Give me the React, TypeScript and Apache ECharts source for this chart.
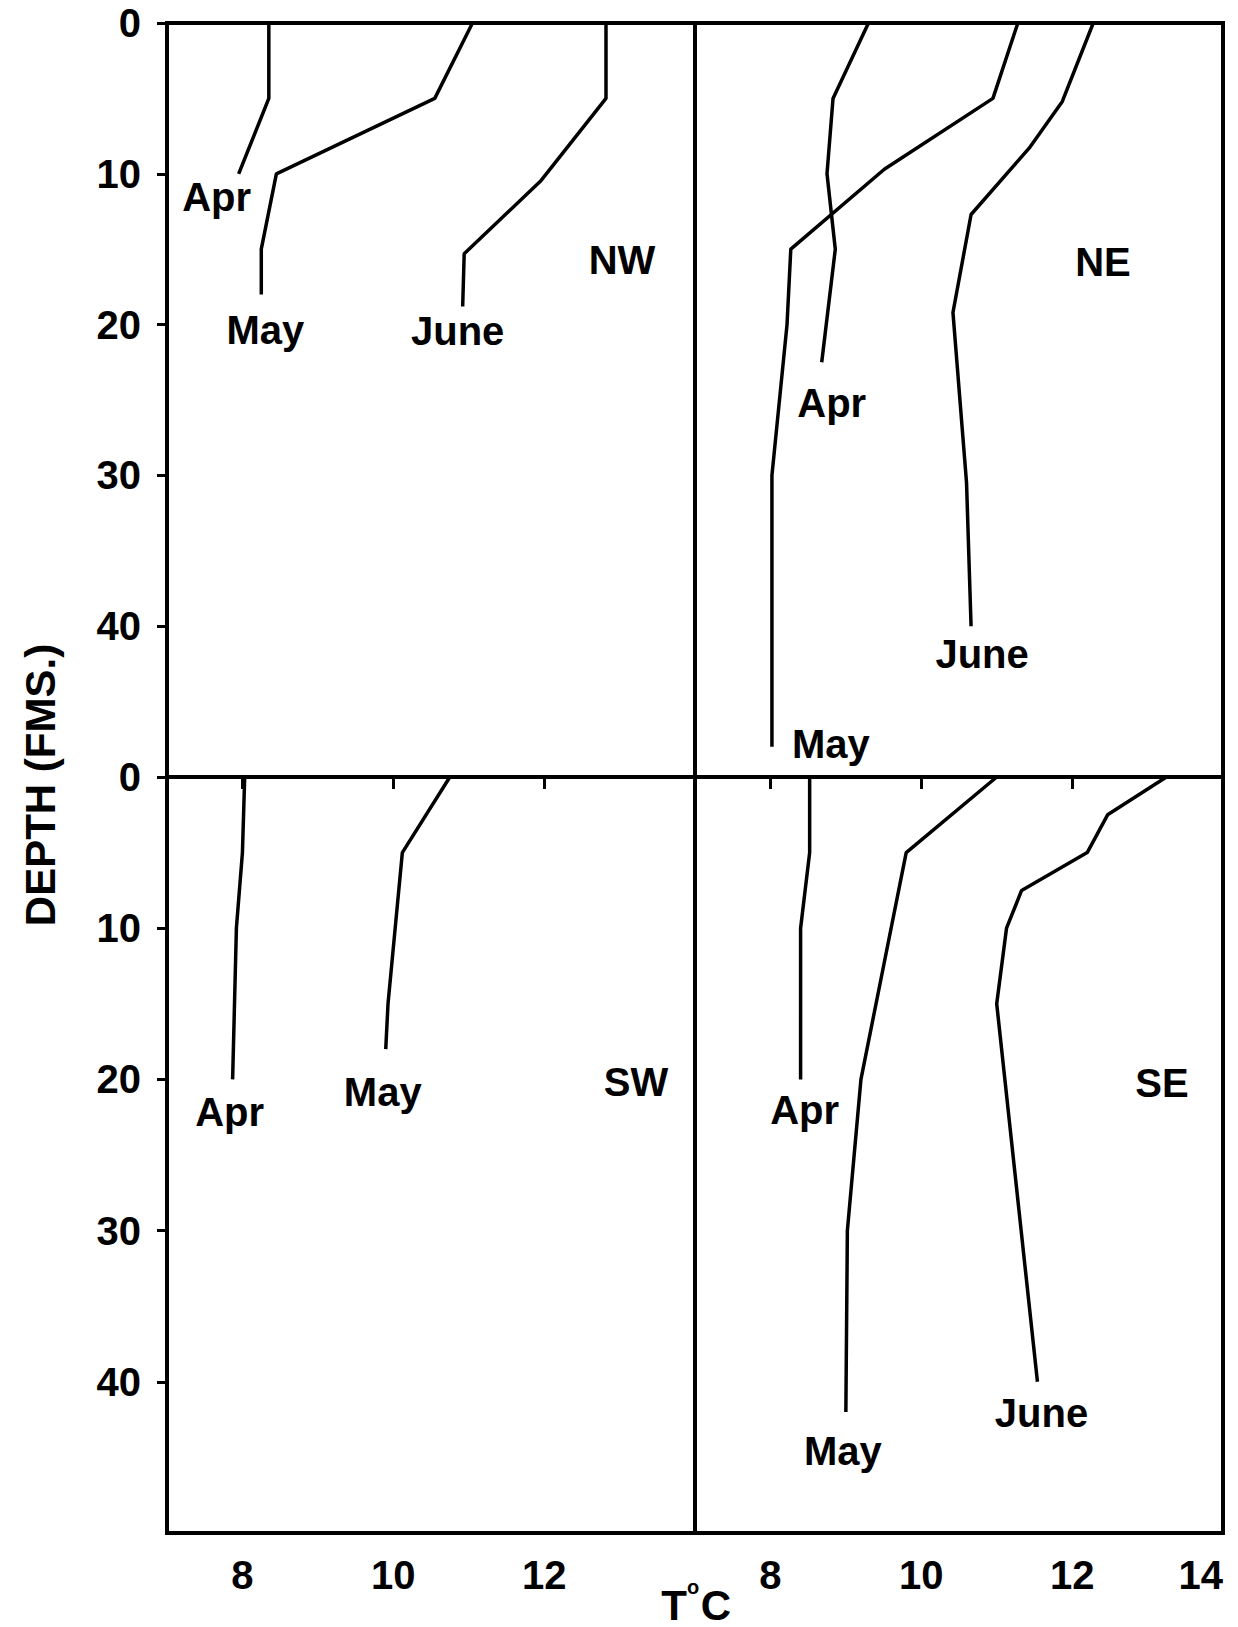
import React, { useEffect, useRef } from "react";
import * as echarts from "echarts";

// ---- data (temperature °C, depth fathoms) ----
const depthTicks = [0, 10, 20, 30, 40];
const tempTicksLeft = [8, 10, 12];
const tempTicksRight = [8, 10, 12, 14];

const nwApr = [[8.35, 0], [8.35, 5], [7.95, 10]];
const nwMay = [[11.05, 0], [10.55, 5], [8.45, 10], [8.25, 15], [8.25, 18]];
const nwJune = [[12.82, 0], [12.82, 5], [11.95, 10.5], [10.94, 15.3], [10.92, 18.8]];

const neApr = [[9.3, 0], [8.83, 5], [8.75, 10], [8.86, 15], [8.68, 22.5]];
const neMay = [[11.28, 0], [10.95, 5], [9.51, 9.7], [8.27, 15], [8.22, 20], [8.02, 30], [8.02, 48]];
const neJune = [[12.28, 0], [11.87, 5.2], [11.43, 8.3], [10.66, 12.7], [10.42, 19.2], [10.6, 30.5], [10.66, 40]];

const swApr = [[8.03, 0], [8.0, 5], [7.92, 10], [7.87, 20]];
const swMay = [[10.75, 0], [10.12, 5], [9.93, 15], [9.9, 18]];

const seApr = [[8.52, 0], [8.52, 5], [8.4, 10], [8.4, 20]];
const seMay = [[11.0, 0], [9.8, 5], [9.5, 12.5], [9.2, 20], [9.02, 30], [9.0, 42]];
const seJune = [[13.25, 0], [12.47, 2.5], [12.2, 5], [11.33, 7.5], [11.13, 10], [11.0, 15], [11.54, 40]];

const regions = ["NW", "NE", "SW", "SE"];

// ---- layout / style ----
const W = 1238;
const H = 1627;
const LEFT = 167, MID = 695, RIGHT = 1223, TOP = 23, HMID = 777, BOTTOM = 1533;
const tickFont = "'Liberation Sans', Arial, Helvetica, sans-serif";
const textFont = "'Liberation Sans', Arial, Helvetica, sans-serif";

type Line = { name: string; data: number[][]; panel: number; off: [number, number] };

const lines: Line[] = [
  { name: "Apr", data: nwApr, panel: 0, off: [-22, 23] },
  { name: "May", data: nwMay, panel: 0, off: [4, 36] },
  { name: "June", data: nwJune, panel: 0, off: [-5, 24] },
  { name: "Apr", data: neApr, panel: 1, off: [10, 41] },
  { name: "May", data: neMay, panel: 1, off: [59, -3] },
  { name: "June", data: neJune, panel: 1, off: [11, 28] },
  { name: "Apr", data: swApr, panel: 2, off: [-3, 33] },
  { name: "May", data: swMay, panel: 2, off: [-3, 43] },
  { name: "Apr", data: seApr, panel: 3, off: [4, 31] },
  { name: "May", data: seMay, panel: 3, off: [-3, 39] },
  { name: "June", data: seJune, panel: 3, off: [4, 31] },
];

const regionPos: [number, number][] = [
  [622, 260],
  [1103, 262],
  [636, 1082],
  [1162, 1083],
];

export default function App() {
  const ref = useRef<HTMLDivElement>(null);

  useEffect(() => {
    document.body.style.margin = "0";
    if (!ref.current) return;
    const chart = echarts.init(ref.current, undefined, { renderer: "svg" });

    const grids = [
      { left: LEFT, top: TOP, width: MID - LEFT, height: HMID - TOP },
      { left: MID, top: TOP, width: RIGHT - MID, height: HMID - TOP },
      { left: LEFT, top: HMID, width: MID - LEFT, height: BOTTOM - HMID },
      { left: MID, top: HMID, width: RIGHT - MID, height: BOTTOM - HMID },
    ].map((g) => ({
      ...g,
      show: true,
      borderColor: "#000",
      borderWidth: 4,
      backgroundColor: "transparent",
      containLabel: false,
      outerBoundsMode: "none",
    }));

    const xAxes = [0, 1, 2, 3].map((i) => {
      const bottomRow = i >= 2;
      const ticks = i === 3 ? tempTicksRight : tempTicksLeft;
      return {
        type: "value",
        gridIndex: i,
        min: 7,
        max: 14,
        position: "bottom",
        axisLine: { show: false },
        splitLine: { show: false },
        axisTick: bottomRow
          ? { show: true, customValues: ticks, length: 12, inside: false, lineStyle: { color: "#000", width: 3 } }
          : { show: false },
        axisLabel: bottomRow
          ? {
              show: true,
              customValues: ticks,
              margin: 22,
              color: "#000",
              fontSize: 40,
              fontWeight: "bold",
              fontFamily: tickFont,
              alignMaxLabel: i === 3 ? "right" : null,
            }
          : { show: false },
      };
    });

    const yAxes = [0, 1, 2, 3].map((i) => {
      const leftCol = i % 2 === 0;
      return {
        type: "value",
        gridIndex: i,
        min: 0,
        max: 50,
        interval: 10,
        inverse: true,
        position: "left",
        axisLine: { show: false },
        splitLine: { show: false },
        axisTick: leftCol
          ? { show: true, customValues: depthTicks, length: 10, inside: false, lineStyle: { color: "#000", width: 3 } }
          : { show: false },
        axisLabel: leftCol
          ? {
              show: true,
              customValues: depthTicks,
              margin: 26,
              color: "#000",
              fontSize: 40,
              fontWeight: "bold",
              fontFamily: tickFont,
            }
          : { show: false },
      };
    });

    const lineSeries = lines.map((l) => ({
      type: "line",
      name: l.name,
      xAxisIndex: l.panel,
      yAxisIndex: l.panel,
      data: l.data,
      symbol: "none",
      lineStyle: { color: "#000", width: 3.5 },
      silent: true,
    }));

    const labelSeries = lines.map((l) => ({
      type: "scatter",
      xAxisIndex: l.panel,
      yAxisIndex: l.panel,
      symbol: "circle",
      symbolSize: 0,
      itemStyle: { color: "#000" },
      silent: true,
      data: [{ name: l.name, value: l.data[l.data.length - 1] }],
      label: {
        show: true,
        position: "inside",
        offset: l.off,
        formatter: "{b}",
        color: "#000",
        fontSize: 40,
        fontWeight: "bold",
        fontFamily: textFont,
        align: "center",
        verticalAlign: "middle",
        opacity: 1,
      },
    }));

    const graphics: any[] = regions.map((r, i) => ({
      type: "text",
      x: regionPos[i][0],
      y: regionPos[i][1],
      style: {
        text: r,
        fill: "#000",
        font: `bold 40px ${textFont}`,
        textAlign: "center",
        textVerticalAlign: "middle",
      },
    }));

    graphics.push(
      {
        type: "text",
        x: 40,
        y: 785,
        rotation: Math.PI / 2,
        style: {
          text: "DEPTH (FMS.)",
          fill: "#000",
          font: `bold 42px ${textFont}`,
          textAlign: "center",
          textVerticalAlign: "middle",
        },
      },
      {
        type: "text",
        x: 674,
        y: 1605,
        style: { text: "T", fill: "#000", font: `bold 42px ${textFont}`, textAlign: "center", textVerticalAlign: "middle" },
      },
      {
        type: "text",
        x: 693,
        y: 1587,
        style: { text: "o", fill: "#000", font: `bold 20px ${textFont}`, textAlign: "center", textVerticalAlign: "middle" },
      },
      {
        type: "text",
        x: 716,
        y: 1605,
        style: { text: "C", fill: "#000", font: `bold 42px ${textFont}`, textAlign: "center", textVerticalAlign: "middle" },
      }
    );

    chart.setOption({
      animation: false,
      backgroundColor: "#fff",
      grid: grids,
      xAxis: xAxes,
      yAxis: yAxes,
      series: [...lineSeries, ...labelSeries],
      graphic: graphics,
    });

    return () => chart.dispose();
  }, []);

  return <div ref={ref} style={{ width: W, height: H }} />;
}
